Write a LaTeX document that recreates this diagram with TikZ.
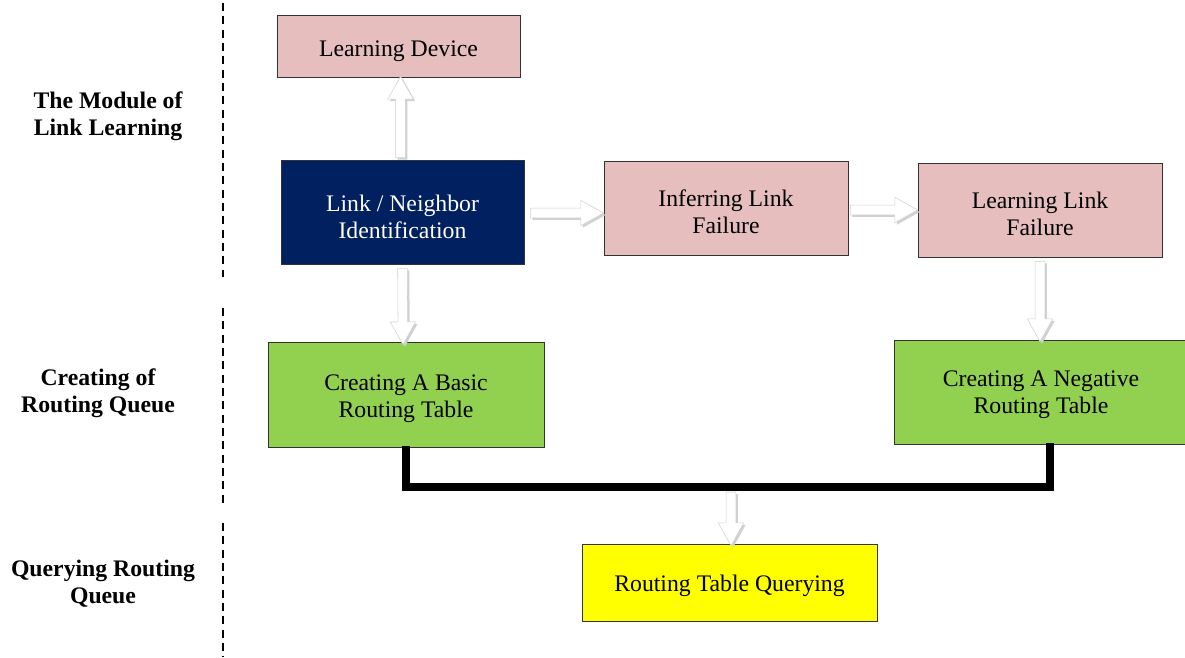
\documentclass[tikz,border=0pt]{standalone}
\usepackage{fontspec}
\setmainfont{Liberation Serif}
\usetikzlibrary{calc}
\definecolor{pinkbox}{RGB}{230,190,190}
\definecolor{navybox}{RGB}{0,32,96}
\definecolor{greenbox}{RGB}{146,208,80}
\definecolor{yellowbox}{RGB}{255,255,0}
\tikzset{
  box/.style={draw=black!80, line width=0.6pt, inner sep=0pt},
  pinkb/.style={box, fill=pinkbox},
  navyb/.style={box, fill=navybox},
  greenb/.style={box, fill=greenbox},
  yellowb/.style={box, fill=yellowbox},
  boxtext/.style={align=center, inner sep=0pt, font=\fontsize{17.8}{20.3}\selectfont},
  whitetext/.style={boxtext, text=white},
  sidelabel/.style={align=center, font=\fontsize{17.8}{20.3}\selectfont\bfseries},
  divider/.style={line width=1.3pt, dash pattern=on 6pt off 4pt},
  arrshadow/.style={fill=black!18, draw=none},
  arrbody/.style={fill=white, draw=black!18, line width=0.4pt},
  bracket/.style={line width=6pt, line cap=rect}
}
\newcommand{\blockarrow}[2]{%
  \foreach \sty/\dx/\dy in {arrshadow/1.5pt/-1.5pt, arrbody/0pt/0pt}{%
  \path[\sty] let \p1=(#1), \p2=(#2),
      \n1={veclen(\x2-\x1,\y2-\y1)}, \n2={atan2(\y2-\y1,\x2-\x1)} in
    [shift={($(\p1)+(\dx,\dy)$)}, rotate=\n2]
    (0pt,-3.6pt) -- (\n1-17pt,-3.6pt) -- (\n1-17pt,-9.5pt) -- (\n1,0pt)
    -- (\n1-17pt,9.5pt) -- (\n1-17pt,3.6pt) -- (0pt,3.6pt) -- cycle;}%
}
\begin{document}
\begin{tikzpicture}[x=0.75pt,y=-0.75pt]
\useasboundingbox (0,0) rectangle (1185,657);
\begin{scope}
\clip (0,0) rectangle (1185,657);
% dividers
\draw[divider] (223,3) coordinate (d1a) -- (223,277) coordinate (d1b);
\draw[divider] (223,308) coordinate (d2a) -- (223,505) coordinate (d2b);
\draw[divider] (223,523) coordinate (d3a) -- (223,657) coordinate (d3b);
% side labels
\node[sidelabel] (lab1) at (108,116) {The Module of\\Link Learning};
\node[sidelabel] (lab2) at (98,393) {Creating of\\Routing Queue};
\node[sidelabel] (lab3) at (103,584) {Querying Routing\\Queue};
% boxes
\node[pinkb, minimum width=243*0.75pt, minimum height=62*0.75pt] (ld) at (398.5,46) {};
\node[boxtext] (ldt) at ($(ld.center)+(0,5)$) {Learning Device};
\node[navyb, minimum width=243*0.75pt, minimum height=104*0.75pt] (ln) at (402.5,212) {};
\node[whitetext] (lnt) at ($(ln.center)+(0,5)$) {Link / Neighbor\\Identification};
\node[pinkb, minimum width=244*0.75pt, minimum height=94*0.75pt] (ilf) at (726,208) {};
\node[boxtext] (ilft) at ($(ilf.center)+(0,4)$) {Inferring Link\\Failure};
\node[pinkb, minimum width=244*0.75pt, minimum height=94*0.75pt] (llf) at (1040,210) {};
\node[boxtext] (llft) at ($(llf.center)+(0,4)$) {Learning Link\\Failure};
\node[greenb, minimum width=276*0.75pt, minimum height=105*0.75pt] (basic) at (406,394.5) {};
\node[boxtext] (basict) at ($(basic.center)+(0,4)$) {Creating A Basic\\Routing Table};
\node[greenb, minimum width=294*0.75pt, minimum height=104*0.75pt] (neg) at (1041,392) {};
\node[boxtext] (negt) at ($(neg.center)+(0,3)$) {Creating A Negative\\Routing Table};
\node[yellowb, minimum width=295*0.75pt, minimum height=77*0.75pt] (query) at (729.5,582.5) {};
\node[boxtext] (queryt) at ($(query.center)+(0,3)$) {Routing Table Querying};
% bracket
\coordinate (bl) at ($(basic.south)+(0,3)$);
\coordinate (br) at ($(neg.south)+(9,3)$);
\coordinate (bm) at (731,487);
\draw[bracket] (bl) |- (bm) -| (br);
% block arrows
\blockarrow{$(ln.north)+(-2,-2)$}{$(ld.south)+(2,-1)$}
\blockarrow{$(ln.east)+(6,1)$}{$(ilf.west)+(0,5)$}
\blockarrow{$(ilf.east)+(2,2)$}{$(llf.west)+(0,0)$}
\blockarrow{$(ln.south)+(0,4)$}{$(basic.north)+(-3,3)$}
\blockarrow{$(llf.south)+(0,4)$}{$(neg.north)+(-1,2)$}
\blockarrow{$(bm)+(0,5)$}{$(query.north)+(1.5,2)$}
\end{scope}
\end{tikzpicture}
\end{document}
